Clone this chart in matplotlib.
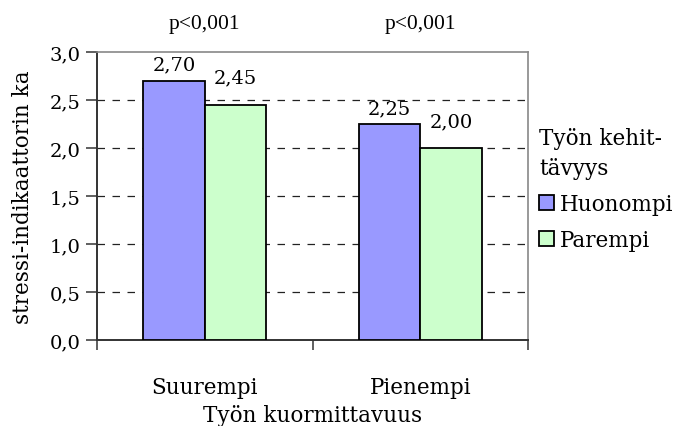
import matplotlib.pyplot as plt
import numpy as np
from matplotlib.patches import Patch

# data
categories = ['Suurempi', 'Pienempi']
huonompi = [2.70, 2.25]
parempi = [2.45, 2.00]
series_names = ['Huonompi', 'Parempi']
p_labels = ['p<0,001', 'p<0,001']

plt.rcParams['font.family'] = ['DejaVu Serif']

fig = plt.figure(figsize=(6.85, 4.27), dpi=100)
ax = fig.add_axes([97/685, 1-341/427, (528-97)/685, (341-53)/427])

x = np.arange(len(categories))
w = 0.285
ax.bar(x - w/2, huonompi, w, color='#9999FF', edgecolor='black', linewidth=1.3, zorder=3)
ax.bar(x + w/2, parempi, w, color='#CCFFCC', edgecolor='black', linewidth=1.3, zorder=3)

# value labels (Excel pushed the green ones up a bit)
for xi, v in zip(x - w/2, huonompi):
    ax.annotate(f'{v:.2f}'.replace('.', ','), (xi, v), xytext=(0, 5),
                textcoords='offset points', ha='center', va='bottom', fontsize=14)
for xi, v in zip(x + w/2, parempi):
    ax.annotate(f'{v:.2f}'.replace('.', ','), (xi, v), xytext=(0, 13),
                textcoords='offset points', ha='center', va='bottom', fontsize=14)

for xi, t in zip(x, p_labels):
    ax.text(xi, 1 + 28/288, t, ha='center', va='center', fontsize=15.5,
            family='Liberation Serif', transform=ax.get_xaxis_transform())

ax.set_xlim(-0.5, 1.5)
ax.set_ylim(0, 3.0)
yt = np.arange(0, 3.01, 0.5)
ax.set_yticks(yt)
ax.set_yticklabels([f'{v:.1f}'.replace('.', ',') for v in yt], fontsize=14)
ax.set_xticks(x)
ax.set_xticklabels(categories, fontsize=15.5)
ax.set_xticks([-0.5, 0.5, 1.5], minor=True)
ax.tick_params(axis='x', which='major', length=0, pad=26)
ax.tick_params(axis='x', which='minor', length=7, width=1.2, color='#444444')
ax.tick_params(axis='y', length=8, width=1.2, color='#444444', pad=4)

for g in yt[1:-1]:
    ax.axhline(g, color='#222222', linestyle=(0, (6, 6)), linewidth=0.9, zorder=1)

for s in ['top', 'right']:
    ax.spines[s].set_color('#888888')
    ax.spines[s].set_linewidth(1.2)
for s in ['left', 'bottom']:
    ax.spines[s].set_color('#333333')
    ax.spines[s].set_linewidth(1.4)

ax.set_xlabel('Työn kuormittavuus', fontsize=15.5, labelpad=4)
ax.set_ylabel('stressi-indikaattorin ka', fontsize=15.5, labelpad=11)

handles = [Patch(facecolor='#9999FF', edgecolor='black', linewidth=1.3),
           Patch(facecolor='#CCFFCC', edgecolor='black', linewidth=1.3)]
leg = fig.legend(handles, series_names, title='Työn kehit-\ntävyys',
                 loc='upper left', bbox_to_anchor=(539/685, 1-128/427),
                 frameon=False, fontsize=15.5, title_fontsize=15.5,
                 handlelength=0.7, handleheight=0.7, handletextpad=0.25,
                 labelspacing=0.65, borderaxespad=0, borderpad=0)
leg._legend_box.align = 'left'
leg.get_title().set_linespacing(1.45)

fig.savefig('out.png', dpi=100)
